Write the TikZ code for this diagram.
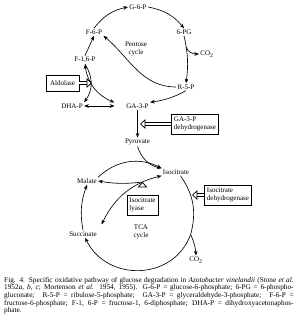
\documentclass[tikz,border=0pt]{standalone}
\usepackage{fontspec}
\setmainfont{Liberation Serif}
\usetikzlibrary{arrows.meta,positioning}

\begin{document}
\begin{tikzpicture}[x=0.03cm,y=0.03cm,lbl/.style={inner sep=1pt,font=\fontsize{6}{7}\selectfont},box/.style={draw,line width=.5pt,inner xsep=2pt,inner ysep=2.5pt,align=left,font=\fontsize{6}{7}\selectfont},a/.style={-{Stealth[length=1.4mm,width=1.1mm]},line width=.55pt},aa/.style={{Stealth[length=1.4mm,width=1.1mm]}-{Stealth[length=1.4mm,width=1.1mm]},line width=.55pt},hollow/.style={double,double distance=2pt,line width=.6pt,-{Triangle[open,length=4.5pt,width=8pt]}}]
\useasboundingbox (0,0) rectangle (297,-320);
% pentose cycle
\node[lbl] (g6p) at (138,-7) {G-6-P};
\node[lbl] (pg6) at (184,-32) {6-PG};
\node[lbl] (co2a) at (207,-54) {CO\textsubscript{2}};
\node[lbl] (r5p) at (186,-87) {R-5-P};
\node[lbl] (ga3p) at (137.5,-106) {GA-3-P};
\node[lbl] (dhap) at (72,-106) {DHA-P};
\node[lbl] (f16p) at (85,-60) {F-1,6-P};
\node[lbl] (f6p) at (94,-32) {F-6-P};
\node[lbl,align=center] (pentose) at (136,-49) {Pentose\\cycle};
\node[box,minimum width=28pt,minimum height=13.5pt] (ald) at (62.5,-83) {Aldolase};
\node[box] (gdh) at (195,-124) {GA-3-P\\dehydrogenase};
\node[lbl] (pyr) at (137.5,-142) {Pyruvate};
% TCA cycle
\node[lbl] (isocit) at (176,-172) {Isocitrate};
\node[lbl] (malate) at (87,-181) {Malate};
\node[lbl] (succ) at (83,-234) {Succinate};
\node[box] (lyase) at (142.5,-205) {Isocitrate\\lyase};
\node[box] (icdh) at (228,-195) {Isocitrate\\dehydrogenase};
\node[lbl,align=center] (tca) at (141,-232) {TCA\\cycle};
\node[lbl] (co2b) at (196,-260) {CO\textsubscript{2}};
\coordinate (pgb) at (186,-47);
\coordinate (ax) at (92,-83);
\coordinate (gx) at (140,-124);
\coordinate (glx) at (142.5,-182);
\coordinate (icx) at (192,-195);
\coordinate (tb) at (190.6,-234.5);
\draw[a] (f6p.north) to[bend left=20] (g6p.west); \draw[a] (g6p.east) to[bend left=20] (pg6.north);
\draw[a] (pg6.south) to[bend left=10] (r5p.north); \draw[a] (pgb) to[out=-70,in=180] (co2a.west);
\draw[a] (r5p.south) to[bend left=10] (ga3p.north east);
\draw[a] (r5p.west) to[out=180,in=-40] (f6p.south east);
\draw[a] (f16p.north) to (f6p.south);
\draw[a] (f16p.south) to[bend left=35] (dhap.north east);
\draw[aa] (f16p.south) to[bend right=30] ([xshift=-9pt,yshift=3pt]ga3p.west);
\draw[aa] (dhap.east) -- ([xshift=-9pt]ga3p.west);
\draw[hollow] (ald.east) -- (ax);
\draw[a] (ga3p.south) -- (pyr.north);
\draw[hollow] (gdh.west) -- (gx);
\draw[a] (pyr.south) to[bend right=30] (isocit.north west);
\draw[a] (malate.north east) to[bend left=35] (isocit.north west);
\draw[line width=.55pt] (isocit.-40) to[bend left=25] (tb);
\draw[a] (tb) to[bend left=10] (co2b.north);
\draw[a] (tb) to[out=-110,in=-64,looseness=1.2] (succ.-60);
\draw[a] (succ.north) to[bend left=15] (malate.south);
\draw[aa] ([shift={(3pt,5pt)}]succ.north east) to[bend left=25] (isocit.south west);
\draw[a] (glx) to[bend left=8] (malate.east);
\draw[hollow] (lyase.north) -- (glx);
\draw[hollow] (icdh.west) -- (icx);
% caption
\node[anchor=north west,inner sep=0pt,text width=247pt,align=justify,font=\fontsize{6.2}{6.5}\selectfont] (cap) at (4,-277) {\hyphenpenalty=10000 Fig. 4. Specific oxidative pathway of glucose degradation in \textit{Azotobacter vinelandii} (Stone \textit{et al.}\linebreak 1952\textit{a}, \textit{b}, \textit{c}; Mortenson \textit{et al.} 1954, 1955). G-6-P = glucose-6-phosphate; 6-PG = 6-phospho-\linebreak gluconate; \ R-5-P = ribulose-5-phosphate; \ GA-3-P = glyceraldehyde-3-phosphate; \ F-6-P =\linebreak fructose-6-phosphate; F-1, 6-P = fructose-1, 6-diphosphate; DHA-P = dihydroxyacetonaphos-\linebreak phate.};
\end{tikzpicture}
\end{document}
